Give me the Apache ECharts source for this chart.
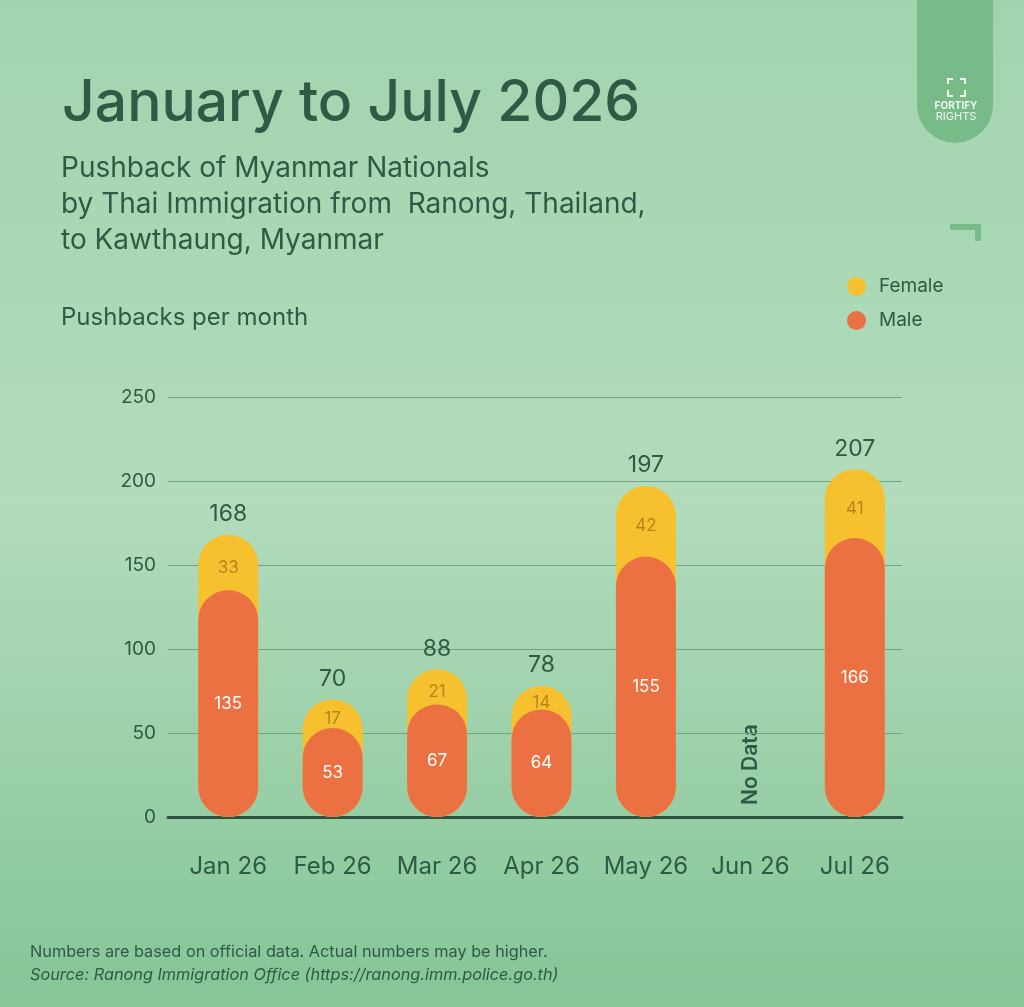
<!DOCTYPE html>
<html>
<head>
<meta charset="utf-8">
<script src="https://cdn.jsdelivr.net/npm/echarts@6/dist/echarts.min.js"></script>
<style>
html,body{margin:0;padding:0;width:1024px;height:1007px;overflow:hidden;}
#c{width:1024px;height:1007px;}
</style>
</head>
<body>
<div id="c"></div>
<script>
const categories = ['Jan 26','Feb 26','Mar 26','Apr 26','May 26','Jun 26','Jul 26'];
const maleValues = [135, 53, 67, 64, 155, null, 166];
const femaleValues = [33, 17, 21, 14, 42, null, 41];
const totalValues = [168, 70, 88, 78, 197, null, 207];
const yTicks = [0, 50, 100, 150, 200, 250];
const noDataMonth = 'Jun 26';

const FONT = 'Inter, "Noto Sans", sans-serif';
const DARK = '#2f5a45';
const YELLOW = '#f7c02e';
const ORANGE = '#eb7143';
const LOGO = '#77bb89';
const Y_MIN = yTicks[0], Y_MAX = yTicks[yTicks.length - 1];

const chart = echarts.init(document.getElementById('c'), null, {renderer: 'canvas'});

const baseGraphic = [
  {type: 'text', left: 62, top: 75, style: {text: 'January to July 2026', font: '500 57px ' + FONT, fill: DARK}},
  {type: 'text', left: 61, top: 151, style: {text: 'Pushback of Myanmar Nationals\nby Thai Immigration from  Ranong, Thailand,\nto Kawthaung, Myanmar', font: '400 28px ' + FONT, fill: DARK, lineHeight: 36}},
  {type: 'text', left: 61, top: 306, style: {text: 'Pushbacks per month', font: '400 24px ' + FONT, fill: DARK}},
  {type: 'text', left: 30, top: 944, style: {text: 'Numbers are based on official data. Actual numbers may be higher.', font: '400 16.3px ' + FONT, fill: DARK}},
  {type: 'text', left: 30, top: 967, style: {text: 'Source: Ranong Immigration Office (https://ranong.imm.police.go.th)', font: 'italic 400 16.3px ' + FONT, fill: DARK}},
  // logo tab
  {type: 'rect', shape: {x: 917, y: -60, width: 76, height: 203, r: [0, 0, 38, 38]}, style: {fill: LOGO}},
  {type: 'polyline', shape: {points: [[948, 84], [948, 79], [953, 79]]}, style: {stroke: '#eef6ee', lineWidth: 2, fill: null}},
  {type: 'polyline', shape: {points: [[960, 79], [965, 79], [965, 84]]}, style: {stroke: '#eef6ee', lineWidth: 2, fill: null}},
  {type: 'polyline', shape: {points: [[948, 90], [948, 96], [953, 96]]}, style: {stroke: '#eef6ee', lineWidth: 2, fill: null}},
  {type: 'polyline', shape: {points: [[960, 96], [965, 96], [965, 90]]}, style: {stroke: '#eef6ee', lineWidth: 2, fill: null}},
  {type: 'text', x: 956, y: 106, style: {text: 'FORTIFY', font: '700 10px ' + FONT, fill: '#eef6ee', align: 'center', verticalAlign: 'middle'}},
  {type: 'text', x: 956, y: 117, style: {text: 'RIGHTS', font: '400 11px ' + FONT, fill: '#eef6ee', align: 'center', verticalAlign: 'middle'}},
  // corner bracket
  {type: 'polyline', shape: {points: [[950, 227], [978, 227], [978, 241]]}, style: {stroke: LOGO, lineWidth: 6, fill: null}}
];

const option = {
  backgroundColor: {
    type: 'linear', x: 0, y: 0, x2: 0, y2: 1,
    colorStops: [
      {offset: 0, color: '#a1d4ae'},
      {offset: 0.5, color: '#b2dcbc'},
      {offset: 1, color: '#85c596'}
    ]
  },
  textStyle: {fontFamily: FONT},
  animation: false,
  legend: {
    data: [{name: 'Female', itemStyle: {color: YELLOW}}, {name: 'Male', itemStyle: {color: ORANGE}}],
    orient: 'vertical',
    left: 842,
    top: 272,
    icon: 'circle',
    itemWidth: 19,
    itemHeight: 19,
    itemGap: 15,
    textStyle: {color: DARK, fontSize: 19, fontFamily: FONT, padding: [0, 0, 0, 8]},
    selectedMode: false
  },
  grid: [
    {left: 176, right: 117, top: 397, bottom: 190, containLabel: false},
    {left: 168, right: 122, top: 397, bottom: 190, containLabel: false}
  ],
  xAxis: [
    {
      type: 'category',
      gridIndex: 0,
      data: categories,
      axisLine: {show: false},
      axisTick: {show: false},
      axisLabel: {color: DARK, fontSize: 24, margin: 38, fontFamily: FONT, interval: 0}
    },
    {
      type: 'category',
      gridIndex: 1,
      data: categories,
      axisLine: {show: true, lineStyle: {color: '#2c5440', width: 3}},
      axisTick: {show: false},
      axisLabel: {show: false}
    }
  ],
  yAxis: [
    {
      type: 'value', gridIndex: 0, min: Y_MIN, max: Y_MAX, interval: 50,
      axisLine: {show: false}, axisTick: {show: false},
      axisLabel: {show: false}, splitLine: {show: false}
    },
    {
      type: 'value', gridIndex: 1, min: Y_MIN, max: Y_MAX, interval: 50,
      axisLine: {show: false}, axisTick: {show: false},
      axisLabel: {color: DARK, fontSize: 19, margin: 12, fontFamily: FONT},
      splitLine: {lineStyle: {color: '#6ea683', width: 1}}
    }
  ],
  series: [
    {
      name: 'Female',
      type: 'bar',
      xAxisIndex: 0, yAxisIndex: 0,
      data: totalValues,
      barWidth: 60,
      barGap: '-100%',
      z: 2,
      itemStyle: {color: YELLOW, borderRadius: 30},
      label: {
        show: true, position: 'top', distance: 9,
        color: DARK, fontSize: 23, fontFamily: FONT
      }
    },
    {
      name: 'Male',
      type: 'bar',
      xAxisIndex: 0, yAxisIndex: 0,
      stack: 'mf',
      data: maleValues,
      barWidth: 60,
      barGap: '-100%',
      z: 3,
      itemStyle: {color: ORANGE, borderRadius: 30},
      label: {show: true, position: 'inside', color: '#ffffff', fontSize: 17, fontFamily: FONT}
    },
    {
      name: 'FemaleLabel',
      type: 'bar',
      xAxisIndex: 0, yAxisIndex: 0,
      stack: 'mf',
      data: femaleValues,
      barWidth: 60,
      barGap: '-100%',
      z: 4,
      itemStyle: {color: 'rgba(0,0,0,0)'},
      label: {show: true, position: 'inside', offset: [0, 5], color: '#b8851d', fontSize: 17, fontFamily: FONT},
      emphasis: {disabled: true},
      silent: true
    }
  ],
  graphic: baseGraphic
};

chart.setOption(option);

// "No Data" marker placed through the chart's own scales
const p = chart.convertToPixel({xAxisIndex: 0, yAxisIndex: 0}, [noDataMonth, 0]);
chart.setOption({
  graphic: baseGraphic.concat([{
    type: 'text', x: p[0], y: p[1] - 12, rotation: Math.PI / 2,
    style: {text: 'No Data', font: '600 21px ' + FONT, fill: DARK, align: 'left', verticalAlign: 'middle'}
  }])
});
</script>
</body>
</html>
